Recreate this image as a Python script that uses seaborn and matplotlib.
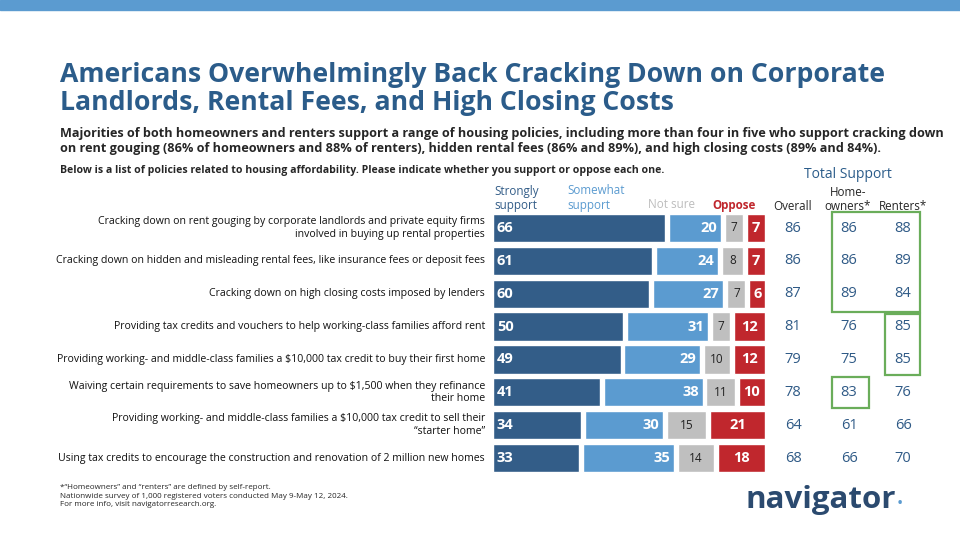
import matplotlib
matplotlib.use('Agg')
import matplotlib.pyplot as plt
import seaborn as sns
import pandas as pd
from matplotlib.patches import Rectangle

policies = [
    'Cracking down on rent gouging by corporate landlords and private equity firms\ninvolved in buying up rental properties',
    'Cracking down on hidden and misleading rental fees, like insurance fees or deposit fees',
    'Cracking down on high closing costs imposed by lenders',
    'Providing tax credits and vouchers to help working-class families afford rent',
    'Providing working- and middle-class families a $10,000 tax credit to buy their first home',
    'Waiving certain requirements to save homeowners up to $1,500 when they refinance\ntheir home',
    'Providing working- and middle-class families a $10,000 tax credit to sell their\n\u201cstarter home\u201d',
    'Using tax credits to encourage the construction and renovation of 2 million new homes',
]
strongly = [66, 61, 60, 50, 49, 41, 34, 33]
somewhat = [20, 24, 27, 31, 29, 38, 30, 35]
not_sure = [7, 8, 7, 7, 10, 11, 15, 14]
oppose = [7, 7, 6, 12, 12, 10, 21, 18]
overall = [86, 86, 87, 81, 79, 78, 64, 68]
homeowners = [86, 86, 89, 76, 75, 83, 61, 66]
renters = [88, 89, 84, 85, 85, 76, 66, 70]

C_STRONG = '#335d88'
C_SOME = '#5b9bd0'
C_NS = '#bfbfbf'
C_OPP = '#c0272d'
C_TITLE = '#2b5c8a'
C_NUM = '#2f5a86'
C_GREEN = '#6aad5a'

W, H = 960, 540
fig = plt.figure(figsize=(9.6, 5.4), dpi=100)
sns.set_style('white')
plt.rcParams['font.family'] = ['Open Sans', 'DejaVu Sans']


def fx(x):
    return x / W


def fy(y):
    return 1 - y / H


# top stripe
fig.patches.append(Rectangle((0, fy(10)), 1, 10 / H, transform=fig.transFigure,
                             color='#5b9bd0', zorder=0))

fig.text(fx(60), fy(89), 'Americans Overwhelmingly Back Cracking Down on Corporate\nLandlords, Rental Fees, and High Closing Costs',
         color=C_TITLE, fontsize=19.2, fontweight='bold', va='center', linespacing=1.1)
fig.text(fx(60), fy(141), 'Majorities of both homeowners and renters support a range of housing policies, including more than four in five who support cracking down\n'
         'on rent gouging (86% of homeowners and 88% of renters), hidden rental fees (86% and 89%), and high closing costs (89% and 84%).',
         fontsize=9.1, fontweight='bold', va='center', linespacing=1.2)
fig.text(fx(60), fy(170), 'Below is a list of policies related to housing affordability. Please indicate whether you support or oppose each one.',
         fontsize=7.6, fontweight='bold', va='center')

# bar axes
x0, x1, ytop, ybot = 493, 765, 211.5, 474.5
ax = fig.add_axes([fx(x0), fy(ybot), (x1 - x0) / W, (ybot - ytop) / H])
gap = 1.5
df = pd.DataFrame({'policy': policies, 'strongly': strongly})
sns.barplot(data=df, x='strongly', y='policy', color=C_STRONG, width=0.86,
            saturation=1, ax=ax, orient='h')
rows = range(len(policies))
left1 = [s + gap for s in strongly]
ax.barh(list(rows), somewhat, left=left1, height=0.86, color=C_SOME)
left2 = [l + s + gap for l, s in zip(left1, somewhat)]
ax.barh(list(rows), not_sure, left=left2, height=0.86, color=C_NS)
left3 = [l + s + gap for l, s in zip(left2, not_sure)]
ax.barh(list(rows), oppose, left=left3, height=0.86, color=C_OPP)
for i in rows:
    ax.text(1.5, i, str(strongly[i]), color='white', fontsize=10.5, fontweight='bold', va='center')
    ax.text(left1[i] + somewhat[i] - 1.5, i, str(somewhat[i]), color='white', fontsize=10.5,
            fontweight='bold', va='center', ha='right')
    ax.text(left2[i] + not_sure[i] / 2, i, str(not_sure[i]), color='#222222', fontsize=8.5,
            va='center', ha='center')
    ax.text(left3[i] + oppose[i] / 2, i, str(oppose[i]), color='white', fontsize=10.5,
            fontweight='bold', va='center', ha='center')
ax.set_xlim(0, 100 + 3 * gap)
ax.set_ylim(len(policies) - 0.5, -0.5)
ax.axis('off')

row_y = [ytop + 16.5 + i * 32.875 for i in rows]
for i in rows:
    fig.text(fx(485), fy(row_y[i]), policies[i], ha='right', va='center', fontsize=7.6,
             linespacing=1.2, color='#111111')
    fig.text(fx(793), fy(row_y[i]), str(overall[i]), ha='center', va='center', fontsize=10.5, color=C_NUM)
    fig.text(fx(849), fy(row_y[i]), str(homeowners[i]), ha='center', va='center', fontsize=10.5, color=C_NUM)
    fig.text(fx(903), fy(row_y[i]), str(renters[i]), ha='center', va='center', fontsize=10.5, color=C_NUM)

# legend headers
fig.text(fx(494), fy(198), 'Strongly\nsupport', color=C_STRONG, fontsize=8.4, va='center', linespacing=1.1)
fig.text(fx(567), fy(198), 'Somewhat\nsupport', color=C_SOME, fontsize=8.4, va='center', linespacing=1.1)
fig.text(fx(648), fy(205), 'Not sure', color='#bdbdbd', fontsize=8.4, va='center')
fig.text(fx(712), fy(205), 'Oppose', color=C_OPP, fontsize=8.4, va='center', fontweight='bold')
fig.text(fx(848), fy(175), 'Total Support', color=C_TITLE, fontsize=10, ha='center', va='center')
fig.text(fx(793), fy(206), 'Overall', fontsize=8.4, ha='center', va='center')
fig.text(fx(848), fy(199), 'Home-\nowners*', fontsize=8.4, ha='center', va='center', linespacing=1.1)
fig.text(fx(903), fy(206), 'Renters*', fontsize=8.4, ha='center', va='center')

# green boxes
for (bx0, by0, bx1, by1) in [(832, 212, 920, 312), (885, 314, 920, 375), (832, 377, 869, 408)]:
    fig.patches.append(Rectangle((fx(bx0), fy(by1)), (bx1 - bx0) / W, (by1 - by0) / H,
                                 transform=fig.transFigure, fill=False, edgecolor=C_GREEN, lw=1.6))

fig.text(fx(60), fy(496), '*\u201cHomeowners\u201d and \u201crenters\u201d are defined by self-report.\n'
         'Nationwide survey of 1,000 registered voters conducted May 9-May 12, 2024.\n'
         'For more info, visit navigatorresearch.org.', fontsize=5.8, va='center', linespacing=1.3)
fig.text(fx(745), fy(500), 'navigator', fontsize=22.5, fontweight='bold', color='#2b4a6f', va='center')
fig.text(fx(897), fy(504), '\u2022', fontsize=12, color=C_SOME, va='center')

fig.savefig('out.png', dpi=100)
